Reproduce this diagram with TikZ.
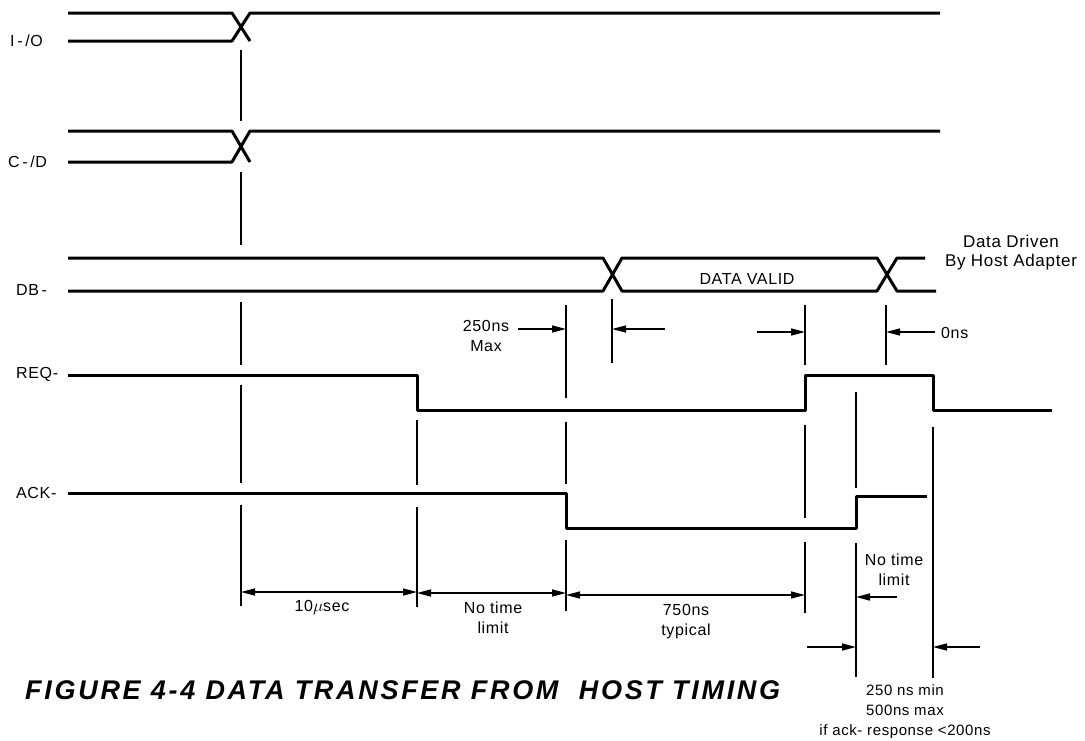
\documentclass[tikz,border=0pt]{standalone}
\usepackage{fontspec}
\setmainfont{Liberation Sans}[LetterSpace=4]
\newfontfamily\titlefont{Liberation Sans}[LetterSpace=10]
\usetikzlibrary{arrows.meta}

\begin{document}
\begin{tikzpicture}[
    x=1pt, y=-1pt,
    font=\fontsize{16}{20}\selectfont,
    signal/.style={line width=3pt, line join=round},
    marker/.style={line width=1.7pt},
    timing/.style={line width=1.5pt, -{Triangle[length=14pt,width=7pt]}},
    span/.style={line width=1.5pt, {Triangle[length=14pt,width=7pt]}-{Triangle[length=14pt,width=7pt]}},
    signame/.style={anchor=west, inner sep=0pt},
    note/.style={align=center, inner sep=0pt},
    small/.style={note, font=\fontsize{15}{20}\selectfont}
]
    \useasboundingbox (0,0) rectangle (1085,740);

    \draw[signal] (68,13) -- (232,13) -- (250,41);
    \draw[signal] (68,41) -- (232,41) -- (250,13) -- (940,13);
    \draw[signal] (68,131) -- (232,131) -- (250,162);
    \draw[signal] (68,162) -- (232,162) -- (250,131) -- (940,131);
    \draw[signal] (68,258) -- (603,258) -- (622,291) -- (877,291) -- (897,258) -- (925,258);
    \draw[signal] (68,291) -- (603,291) -- (622,258) -- (877,258) -- (897,291) -- (936,291);
    \draw[signal] (68,375) -- (417,375) -- (417,410) -- (805,410) -- (805,375) -- (933,375) -- (933,410) -- (1052,410);
    \draw[signal] (68,493) -- (566,493) -- (566,528) -- (856,528) -- (856,496) -- (927,496);

    \draw[marker] (241,50) -- (241,121) (241,172) -- (241,245) (241,302) -- (241,365)
        (241,385) -- (241,483) (241,505) -- (241,606);
    \draw[marker] (417,420) -- (417,485) (417,507) -- (417,607);
    \draw[marker] (566,305) -- (566,398) (566,422) -- (566,484) (566,540) -- (566,611);
    \draw[marker] (612,299) -- (612,363);
    \draw[marker] (805,305) -- (805,365) (805,425) -- (805,518) (805,542) -- (805,613);
    \draw[marker] (886,305) -- (886,365);
    \draw[marker] (856,392) -- (856,488) (856,543) -- (856,677);
    \draw[marker] (933,427) -- (933,678);

    \draw[timing] (518,329) -- (566,329);
    \draw[timing] (665,329) -- (612,329);
    \draw[timing] (757,332) -- (805,332);
    \draw[timing] (935,332) -- (886,332);
    \draw[timing] (897,597) -- (856,597);
    \draw[timing] (807,647) -- (856,647);
    \draw[timing] (980,647) -- (933,647);
    \draw[span] (241,592) -- (417,592);
    \draw[span] (417,593) -- (566,593);
    \draw[span] (566,595) -- (805,595);

    \node[signame] (io) at (10,41) {I\,-\,/O};
    \node[signame] (cd) at (8,162) {C\,-\,/D};
    \node[signame] (db) at (16,290) {DB\,-};
    \node[signame] (req) at (16,374) {REQ-};
    \node[signame] (ack) at (16,493) {ACK-};

    \node[note] (valid) at (747,279) {DATA VALID};
    \node[note, font=\fontsize{17}{19}\selectfont] (driven) at (1011,253) {Data Driven\\By Host Adapter};
    \node[note] (maxdelay) at (486,336) {250ns\\Max};
    \node[note, anchor=west] (zero) at (941,333) {0ns};
    \node[note] (setup) at (322,608) {10$\mu$sec};
    \node[note] (nolimit) at (493,618) {No time\\limit};
    \node[note] (typical) at (686,622) {750ns\\typical};
    \node[note] (acklimit) at (894,570) {No time\\limit};
    \node[small] (window) at (905,712) {250 ns min\\500ns max\\if ack- response <200ns};

    \node[anchor=west, inner sep=0pt, font=\titlefont\fontsize{27}{30}\selectfont\bfseries\itshape] (title)
        at (25,690) {FIGURE 4-4 DATA TRANSFER FROM~ HOST TIMING};
\end{tikzpicture}
\end{document}
